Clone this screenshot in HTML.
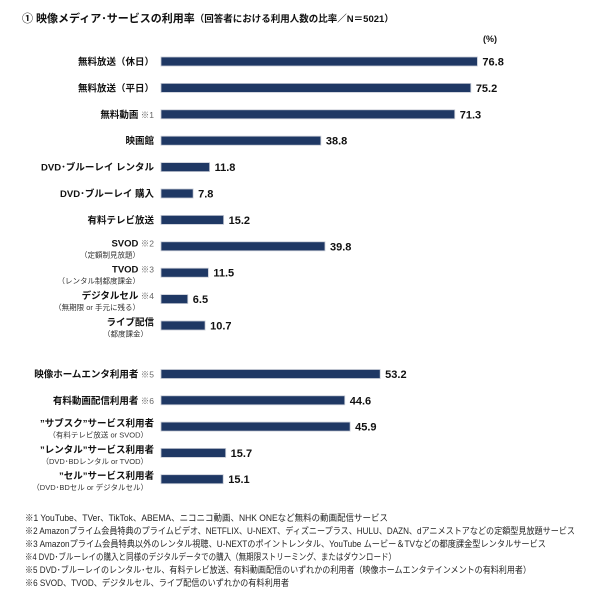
<!DOCTYPE html>
<html><head><meta charset="utf-8"><style>
body{margin:0;background:#fff;}
svg{display:block;font-family:"Liberation Sans","Noto Sans CJK JP",sans-serif;}
</style></head><body>
<svg id="chart" width="600" height="609" viewBox="0 0 600 609" xmlns="http://www.w3.org/2000/svg">
<text x="22" y="22" font-size="11" font-weight="bold" fill="#111">① 映像メディア･サービスの利用率<tspan font-size="9.5">（回答者における利用人数の比率／N＝5021）</tspan></text>
<text x="483" y="42" font-size="9" font-weight="bold" fill="#111">(%)</text>
<g id="bars"></g>
<g font-size="9" fill="#222">
<text x="25" y="521" textLength="363" lengthAdjust="spacingAndGlyphs">※1 YouTube、TVer、TikTok、ABEMA、ニコニコ動画、NHK ONEなど無料の動画配信サービス</text>
<text x="25" y="534" textLength="550" lengthAdjust="spacingAndGlyphs">※2 Amazonプライム会員特典のプライムビデオ、NETFLIX、U-NEXT、ディズニープラス、HULU、DAZN、dアニメストアなどの定額型見放題サービス</text>
<text x="25" y="547" textLength="521" lengthAdjust="spacingAndGlyphs">※3 Amazonプライム会員特典以外のレンタル視聴、U-NEXTのポイントレンタル、YouTube ムービー＆TVなどの都度課金型レンタルサービス</text>
<text x="25" y="560" textLength="371" lengthAdjust="spacingAndGlyphs">※4 DVD･ブルーレイの購入と同様のデジタルデータでの購入（無期限ストリーミング、またはダウンロード）</text>
<text x="25" y="573" textLength="506" lengthAdjust="spacingAndGlyphs">※5 DVD･ブルーレイのレンタル･セル、有料テレビ放送、有料動画配信のいずれかの利用者（映像ホームエンタテインメントの有料利用者）</text>
<text x="25" y="586" textLength="264" lengthAdjust="spacingAndGlyphs">※6 SVOD、TVOD、デジタルセル、ライブ配信のいずれかの有料利用者</text>
</g>
</svg>
<script>
const categories=["無料放送（休日）","無料放送（平日）","無料動画","映画館","DVD･ブルーレイ レンタル","DVD･ブルーレイ 購入","有料テレビ放送","SVOD","TVOD","デジタルセル","ライブ配信","映像ホームエンタ利用者","有料動画配信利用者","”サブスク”サービス利用者","”レンタル”サービス利用者","”セル”サービス利用者"];
const notes=["","","※1","","","","","※2","※3","※4","","※5","※6","","",""];
const subLabels=["","","","","","","","（定額制見放題）","（レンタル制都度課金）","（無期限 or 手元に残る）","（都度課金）","","","（有料テレビ放送 or SVOD）","（DVD･BDレンタル or TVOD）","（DVD･BDセル or デジタルセル）"];
const values=[76.8,75.2,71.3,38.8,11.8,7.8,15.2,39.8,11.5,6.5,10.7,53.2,44.6,45.9,15.7,15.1];
const x0=161, scale=4.12;
function xPos(v){return x0+v*scale;}
function yPos(i){return i<11?61.5+i*26.4:374+(i-11)*26.3;}
const NS="http://www.w3.org/2000/svg";
const g=document.getElementById('bars');
function mk(t,a){const e=document.createElementNS(NS,t);for(const k in a)e.setAttribute(k,a[k]);return e;}
values.forEach((v,i)=>{
  const cy=yPos(i);
  const r=mk('rect',{x:x0,y:cy-4.5,width:xPos(v)-x0,height:9,fill:'#1f3864',stroke:'#c8ccd6','stroke-width':0.8});
  
  
  g.appendChild(r);
  const t=mk('text',{x:xPos(v)+5,y:cy+4,'font-size':11,'font-weight':'bold',fill:'#111'});
  t.textContent=v.toFixed(1);
  
  
  g.appendChild(t);
  const hasSub=subLabels[i]!=="";
  const ly=hasSub?cy:cy+3.5;
  const lab=mk('text',{x:154,y:ly,'font-size':9.5,'font-weight':'bold',fill:'#111','text-anchor':'end'});
  lab.textContent=categories[i];
  if(notes[i]){const ts=mk('tspan',{'font-weight':'normal','font-size':8.5,fill:'#666'});ts.textContent=' '+notes[i];lab.appendChild(ts);}
  
  
  g.appendChild(lab);
  if(hasSub){
    const s=mk('text',{x:notes[i]?140:148,y:cy+11,'font-size':7.5,fill:'#333','text-anchor':'end'});
    s.textContent=subLabels[i];
    
    
    g.appendChild(s);
  }
});
</script>
</body></html>
